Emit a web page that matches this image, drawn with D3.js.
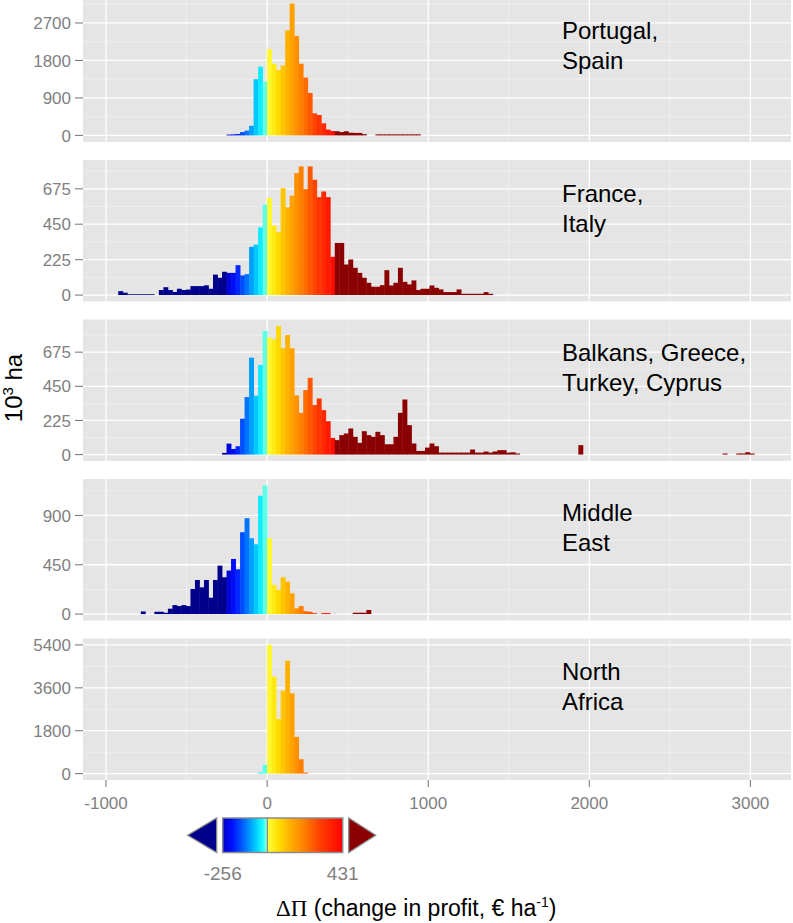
<!DOCTYPE html>
<html>
  <head>
    <style>
      body,
      html {
        margin: 0;
        padding: 0;
        background: #fff;
        overflow: hidden;
      }
      svg {
        display: block;
      }
    </style>
  </head>
  <body>
    <script src="https://cdn.jsdelivr.net/npm/d3@7"></script>
    <script>
      const binWidth = 28;
      const xTicks = [-1000, 0, 1000, 2000, 3000];
      const regionLabels = [
        ["Portugal,", "Spain"],
        ["France,", "Italy"],
        ["Balkans, Greece,", "Turkey, Cyprus"],
        ["Middle", "East"],
        ["North", "Africa"],
      ];
      const yTicks = [
        [0, 900, 1800, 2700],
        [0, 225, 450, 675],
        [0, 225, 450, 675],
        [0, 450, 900],
        [0, 1800, 3600, 5400],
      ];

      // bin k covers k*binWidth .. (k+1)*binWidth, values in 10^3 ha
      const portugalSpainStart = -9;
      const portugalSpain = [
        20, 25, 35, 80, 115, 230, 1350, 1650, 1290, 2070, 1720, 1570, 1680,
        2520, 3165, 2390, 1720, 1390, 1020, 530, 490, 290, 140, 105, 100, 80,
        100, 65, 60, 60, 30, 0, 0, 25, 25, 25, 25, 25, 25, 25, 25, 25, 25,
      ];
      const franceItalyStart = -33;
      const franceItaly = [
        25, 15, 5, 5, 5, 5, 5, 5, 0, 32, 50, 32, 20, 40, 32, 35, 57, 57, 57, 62,
        40, 130, 110, 148, 141, 141, 190, 125, 133, 306, 320, 430, 574, 616, 441,
        399, 679, 557, 631, 774, 817, 673, 817, 732, 622, 658, 622, 243, 331, 331,
        194, 226, 173, 141, 110, 78, 53, 53, 63, 158, 61, 78, 173, 84, 68, 93, 32,
        40, 40, 61, 46, 36, 19, 19, 19, 36, 8, 8, 8, 8, 8, 19, 8,
      ];
      const balkansStart = -10;
      const balkans = [
        11, 72, 37, 55, 236, 379, 639, 388, 591, 815, 771, 760, 848, 701, 788,
        701, 390, 275, 425, 506, 326, 370, 293, 220, 110, 95, 128, 139, 172, 117,
        77, 154, 128, 117, 150, 128, 68, 68, 117, 275, 363, 194, 73, 24, 24, 46,
        73, 55, 13, 13, 13, 13, 13, 13, 13, 33, 13, 13, 20, 13, 20, 29, 29, 13,
        15, 7, 0, 0, 0, 0, 0, 0, 0, 0, 0, 0, 0, 0, 0, 62, 0, 0, 0, 0, 0, 0, 0, 0,
        0, 0, 0, 0, 0, 0, 0, 0, 0, 0, 0, 0, 0, 0, 0, 0, 0, 0, 0, 0, 0, 0, 0, 7, 0,
        0, 7, 7, 15, 7,
      ];
      const middleEastStart = -28;
      const middleEast = [
        24, 0, 0, 21, 21, 12, 49, 82, 73, 82, 73, 229, 311, 244, 311, 149, 311,
        442, 336, 397, 503, 409, 747, 875, 692, 637, 1080, 1174, 692, 265, 220,
        336, 296, 189, 52, 73, 27, 21, 9, 0, 9, 9, 0, 0, 0, 0, 0, 12, 12, 12, 37,
      ];
      const northAfricaStart = -2;
      const northAfrica = [42, 365, 5400, 4070, 2290, 3480, 4740, 3370, 1540, 600, 42];

      const colourLimits = [-256, 431];

      const regions = [
        { label: regionLabels[0], start: portugalSpainStart, values: portugalSpain, ticks: yTicks[0] },
        { label: regionLabels[1], start: franceItalyStart, values: franceItaly, ticks: yTicks[1] },
        { label: regionLabels[2], start: balkansStart, values: balkans, ticks: yTicks[2] },
        { label: regionLabels[3], start: middleEastStart, values: middleEast, ticks: yTicks[3] },
        { label: regionLabels[4], start: northAfricaStart, values: northAfrica, ticks: yTicks[4] },
      ];

      const width = 793;
      const height = 923;
      const left = 83;
      const right = 791;
      const font = "'Liberation Sans', Arial, sans-serif";
      const grey = "#7f7f7f";

      // panel 1 is clipped at the top of the picture
      const panelTop = (i) => (i === 0 ? -3 : 0.5 + 159.5 * i);
      const panelBottom = (i) => 142 + 159.5 * i;

      const x = d3.scaleLinear().domain([-1143, 3252]).range([left, right]);

      const negColour = d3
        .scaleLinear()
        .domain([-256, -200, -128, -60, -25, 0])
        .range(["#0000c8", "#0010ff", "#0070ff", "#00d8ff", "#20ffff", "#b0ffc8"])
        .clamp(true);
      const posColour = d3
        .scaleLinear()
        .domain([0, 60, 130, 210, 300, 431])
        .range(["#ffff40", "#ffe000", "#ffb000", "#ff8000", "#ff4000", "#ff0000"])
        .clamp(true);

      function fillFor(v) {
        if (v < colourLimits[0]) return "#00008b";
        if (v > colourLimits[1]) return "#8b0000";
        return v < 0 ? negColour(v) : posColour(v);
      }

      const svg = d3
        .select("body")
        .append("svg")
        .attr("width", width)
        .attr("height", height)
        .attr("viewBox", `0 0 ${width} ${height}`);

      regions.forEach((r, i) => {
        const top = panelTop(i);
        const bottom = panelBottom(i);
        const bins = r.values.map((v, j) => ({
          x0: (r.start + j) * binWidth,
          x1: (r.start + j + 1) * binWidth,
          v: v,
        }));
        const maxV = d3.max(bins, (d) => d.v);
        const y = d3
          .scaleLinear()
          .domain([-0.05 * maxV, 1.05 * maxV])
          .range([bottom, top]);

        const g = svg.append("g");

        g.append("rect")
          .attr("x", left)
          .attr("y", top)
          .attr("width", right - left)
          .attr("height", bottom - top)
          .attr("fill", "#e5e5e5");

        // minor grid
        const step = r.ticks[1] - r.ticks[0];
        const minorY = r.ticks.map((t) => t + step / 2).filter((t) => t < 1.05 * maxV);
        g.selectAll(".minor-y")
          .data(minorY)
          .enter()
          .append("line")
          .attr("x1", left)
          .attr("x2", right)
          .attr("y1", (d) => y(d))
          .attr("y2", (d) => y(d))
          .attr("stroke", "#f2f2f2")
          .attr("stroke-width", 0.7);
        g.selectAll(".minor-x")
          .data(xTicks.slice(0, -1).map((t) => t + 500))
          .enter()
          .append("line")
          .attr("x1", (d) => x(d))
          .attr("x2", (d) => x(d))
          .attr("y1", top)
          .attr("y2", bottom)
          .attr("stroke", "#f2f2f2")
          .attr("stroke-width", 0.7);

        // major grid
        g.selectAll(".major-y")
          .data(r.ticks)
          .enter()
          .append("line")
          .attr("x1", left)
          .attr("x2", right)
          .attr("y1", (d) => y(d))
          .attr("y2", (d) => y(d))
          .attr("stroke", "#fff")
          .attr("stroke-width", 1.3);
        g.selectAll(".major-x")
          .data(xTicks)
          .enter()
          .append("line")
          .attr("x1", (d) => x(d))
          .attr("x2", (d) => x(d))
          .attr("y1", top)
          .attr("y2", bottom)
          .attr("stroke", "#fff")
          .attr("stroke-width", 1.3);

        // histogram bars
        g.selectAll(".bar")
          .data(bins.filter((d) => d.v > 0))
          .enter()
          .append("rect")
          .attr("x", (d) => x(d.x0))
          .attr("width", (d) => x(d.x1) - x(d.x0) + 0.4)
          .attr("y", (d) => y(d.v))
          .attr("height", (d) => y(0) - y(d.v))
          .attr("fill", (d) => fillFor((d.x0 + d.x1) / 2));

        // y axis ticks and labels
        g.selectAll(".ytick")
          .data(r.ticks)
          .enter()
          .append("line")
          .attr("x1", 75)
          .attr("x2", left)
          .attr("y1", (d) => y(d))
          .attr("y2", (d) => y(d))
          .attr("stroke", grey)
          .attr("stroke-width", 1.1);
        g.selectAll(".ylabel")
          .data(r.ticks)
          .enter()
          .append("text")
          .attr("x", 71)
          .attr("y", (d) => y(d))
          .attr("dy", "0.36em")
          .attr("text-anchor", "end")
          .attr("font-family", font)
          .attr("font-size", "17px")
          .attr("fill", grey)
          .text((d) => d);

        // region label
        const lab = g
          .append("text")
          .attr("x", 562)
          .attr("y", top + 41.5)
          .attr("font-family", font)
          .attr("font-size", "24px")
          .attr("fill", "#000");
        lab.selectAll("tspan")
          .data(r.label)
          .enter()
          .append("tspan")
          .attr("x", 562)
          .attr("dy", (d, j) => (j === 0 ? 0 : 30))
          .text((d) => d);
      });

      // x axis under the last panel
      const axisTop = panelBottom(regions.length - 1);
      svg
        .selectAll(".xtick")
        .data(xTicks)
        .enter()
        .append("line")
        .attr("x1", (d) => x(d))
        .attr("x2", (d) => x(d))
        .attr("y1", axisTop)
        .attr("y2", axisTop + 7)
        .attr("stroke", grey)
        .attr("stroke-width", 1.1);
      svg
        .selectAll(".xlabel")
        .data(xTicks)
        .enter()
        .append("text")
        .attr("x", (d) => x(d))
        .attr("y", 809)
        .attr("text-anchor", "middle")
        .attr("font-family", font)
        .attr("font-size", "17px")
        .attr("fill", grey)
        .text((d) => d);

      // y axis title
      const yTitle = svg
        .append("text")
        .attr("transform", "translate(22,388) rotate(-90)")
        .attr("text-anchor", "middle")
        .attr("font-family", font)
        .attr("font-size", "24px")
        .attr("fill", "#000");
      yTitle.append("tspan").text("10");
      yTitle.append("tspan").attr("font-size", "15px").attr("dy", -9).text("3");
      yTitle.append("tspan").attr("dy", 9).text(" ha");

      // colour bar legend
      const lx = d3.scaleLinear().domain(colourLimits).range([222.7, 342.7]);
      const barTop = 818;
      const barBottom = 852.5;
      const barMid = (barTop + barBottom) / 2;
      const defs = svg.append("defs");

      function addGradient(id, lo, hi) {
        const grad = defs
          .append("linearGradient")
          .attr("id", id)
          .attr("x1", "0%")
          .attr("x2", "100%");
        d3.range(0, 21).forEach((s) => {
          const v = lo + ((hi - lo) * s) / 20;
          grad
            .append("stop")
            .attr("offset", `${s * 5}%`)
            .attr("stop-color", v < 0 ? negColour(v) : posColour(v));
        });
      }
      addGradient("gneg", colourLimits[0], -0.01);
      addGradient("gpos", 0, colourLimits[1]);

      svg
        .append("rect")
        .attr("x", lx(colourLimits[0]))
        .attr("y", barTop)
        .attr("width", lx(0) - lx(colourLimits[0]))
        .attr("height", barBottom - barTop)
        .attr("fill", "url(#gneg)");
      svg
        .append("rect")
        .attr("x", lx(0))
        .attr("y", barTop)
        .attr("width", lx(colourLimits[1]) - lx(0))
        .attr("height", barBottom - barTop)
        .attr("fill", "url(#gpos)");
      svg
        .append("rect")
        .attr("x", lx(colourLimits[0]))
        .attr("y", barTop)
        .attr("width", lx(colourLimits[1]) - lx(colourLimits[0]))
        .attr("height", barBottom - barTop)
        .attr("fill", "none")
        .attr("stroke", "#8c8c8c")
        .attr("stroke-width", 1.5);
      svg
        .append("line")
        .attr("x1", lx(0))
        .attr("x2", lx(0))
        .attr("y1", barTop)
        .attr("y2", barBottom)
        .attr("stroke", "#8c8c8c")
        .attr("stroke-width", 1.3);

      // end arrows for values outside the limits
      const lo = lx(colourLimits[0]);
      const hi = lx(colourLimits[1]);
      svg
        .append("path")
        .attr("d", `M${lo - 6},${barTop} L${lo - 6},${barBottom} L${lo - 35},${barMid} Z`)
        .attr("fill", "#00008b")
        .attr("stroke", "#8c8c8c")
        .attr("stroke-width", 1.3);
      svg
        .append("path")
        .attr("d", `M${hi + 6},${barTop} L${hi + 6},${barBottom} L${hi + 33},${barMid} Z`)
        .attr("fill", "#8b0000")
        .attr("stroke", "#8c8c8c")
        .attr("stroke-width", 1.3);

      svg
        .selectAll(".leglabel")
        .data(colourLimits)
        .enter()
        .append("text")
        .attr("x", (d) => lx(d))
        .attr("y", 880)
        .attr("text-anchor", "middle")
        .attr("font-family", font)
        .attr("font-size", "19px")
        .attr("fill", grey)
        .text((d) => d);

      // x axis title
      const xTitle = svg
        .append("text")
        .attr("x", 276)
        .attr("y", 916)
        .attr("font-family", font)
        .attr("font-size", "23px")
        .attr("fill", "#000");
      xTitle
        .append("tspan")
        .attr("font-family", "'Liberation Serif', 'Times New Roman', serif")
        .text("ΔΠ");
      xTitle.append("tspan").text(" (change in profit, € ha");
      xTitle.append("tspan").attr("font-size", "14px").attr("dy", -9).text("-1");
      xTitle.append("tspan").attr("dy", 9).text(")");
    </script>
  </body>
</html>
